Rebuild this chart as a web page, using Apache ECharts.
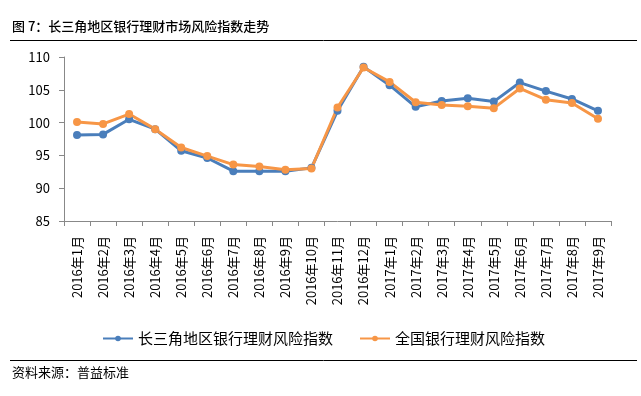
<!DOCTYPE html>
<html><head><meta charset="utf-8">
<script src="https://cdn.jsdelivr.net/npm/echarts@6/dist/echarts.min.js"></script>
<style>html,body{margin:0;padding:0;background:#fff}#c{width:641px;height:396px}</style>
</head><body><div id="c"></div>
<script>
var categories = ['2016年1月','2016年2月','2016年3月','2016年4月','2016年5月','2016年6月','2016年7月','2016年8月','2016年9月','2016年10月','2016年11月','2016年12月','2017年1月','2017年2月','2017年3月','2017年4月','2017年5月','2017年6月','2017年7月','2017年8月','2017年9月'];
var yrdIndex = [98.1,98.2,100.5,99.0,95.7,94.6,92.6,92.6,92.6,93.1,101.8,108.5,105.7,102.4,103.3,103.7,103.2,106.1,104.8,103.6,101.8];
var nationalIndex = [100.1,99.8,101.3,99.0,96.2,94.9,93.6,93.3,92.8,93.0,102.3,108.4,106.2,103.1,102.7,102.5,102.2,105.2,103.5,103.0,100.6];
var seriesNames = ['长三角地区银行理财风险指数','全国银行理财风险指数'];
var titleText = '图 7：长三角地区银行理财市场风险指数走势';
var sourceText = '资料来源：普益标准';

var font = '"Noto Sans CJK SC", "Noto Sans", sans-serif';
var chart = echarts.init(document.getElementById('c'));
chart.setOption({
  animation: false,
  textStyle: {fontFamily: font},
  grid: {left: 64, right: 30, top: 57, bottom: 175, containLabel: false},
  graphic: [
    {type: 'text', left: 12, top: 20, style: {text: titleText, font: '500 13px ' + font, fill: '#000'}},
    {type: 'line', shape: {x1: 10, y1: 40.5, x2: 637, y2: 40.5}, style: {stroke: '#000', lineWidth: 1}},
    {type: 'line', shape: {x1: 10, y1: 360.5, x2: 637, y2: 360.5}, style: {stroke: '#000', lineWidth: 1}},
    {type: 'text', left: 12, top: 366, style: {text: sourceText, font: '13px ' + font, fill: '#000'}}
  ],
  legend: {
    left: 97, top: 326, itemWidth: 30, itemHeight: 7, itemGap: 26,
    textStyle: {fontSize: 15, color: '#000', fontFamily: font},
    data: seriesNames
  },
  xAxis: {
    type: 'category', data: categories, boundaryGap: true,
    axisLine: {lineStyle: {color: '#888'}},
    axisTick: {show: true, alignWithLabel: false, length: 5, lineStyle: {color: '#888'}},
    axisLabel: {rotate: 90, fontSize: 13, color: '#000', margin: 15, interval: 0, fontFamily: font}
  },
  yAxis: {
    type: 'value', min: 85, max: 110, interval: 5,
    axisLine: {show: true, lineStyle: {color: '#888'}},
    axisTick: {show: true, length: 5, lineStyle: {color: '#888'}},
    splitLine: {show: false},
    axisLabel: {fontSize: 13, color: '#000', margin: 14, fontFamily: font}
  },
  series: [
    {name: seriesNames[0], type: 'line', data: yrdIndex, symbol: 'circle', symbolSize: 8,
     lineStyle: {width: 3, color: '#4A7EBB'}, itemStyle: {color: '#4A7EBB'}},
    {name: seriesNames[1], type: 'line', data: nationalIndex, symbol: 'circle', symbolSize: 8,
     lineStyle: {width: 3, color: '#F79646'}, itemStyle: {color: '#F79646'}}
  ]
});
</script></body></html>
